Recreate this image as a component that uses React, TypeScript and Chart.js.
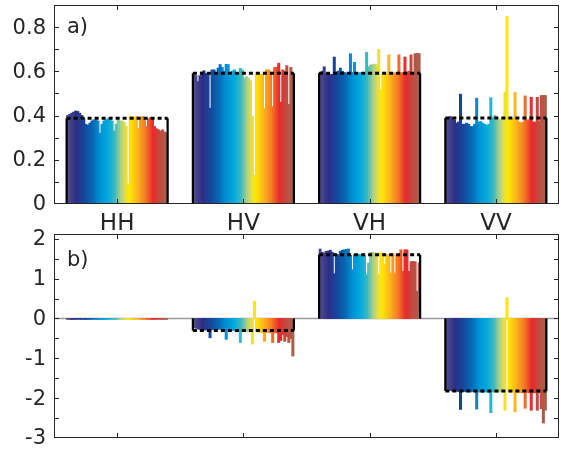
import React, { useEffect, useRef } from 'react';
import { Chart, registerables } from 'chart.js';
Chart.register(...registerables);

const categories = ['HH', 'HV', 'VH', 'VV'];

// panel a) values (50 bars per group)
const hhA = [0.40, 0.405, 0.41, 0.415, 0.42, 0.418, 0.41, 0.40, 0.385, 0.36,
  0.355, 0.365, 0.375, 0.38, 0.38, 0.375, 0.32, 0.36, 0.375, 0.38,
  0.385, 0.38, 0.375, 0.33, 0.36, 0.38, 0.375, 0.375, 0.37, 0.35,
  0.09, 0.395, 0.395, 0.39, 0.395, 0.34, 0.39, 0.395, 0.39, 0.35,
  0.385, 0.39, 0.385, 0.35, 0.34, 0.335, 0.33, 0.335, 0.325, 0.32];
const hvA = [0.586, 0.58, 0.553, 0.58, 0.596, 0.602, 0.59, 0.587, 0.433, 0.606,
  0.606, 0.59, 0.614, 0.63, 0.617, 0.60, 0.631, 0.63, 0.58, 0.60,
  0.606, 0.59, 0.59, 0.613, 0.606, 0.569, 0.576, 0.569, 0.557, 0.395,
  0.13, 0.591, 0.591, 0.586, 0.587, 0.43, 0.606, 0.606, 0.596, 0.44,
  0.617, 0.617, 0.636, 0.46, 0.606, 0.60, 0.625, 0.45, 0.617, 0.586];
const vhA = [0.594, 0.60, 0.62, 0.59, 0.588, 0.584, 0.586, 0.664, 0.595, 0.60,
  0.614, 0.60, 0.594, 0.592, 0.595, 0.679, 0.595, 0.64, 0.594, 0.592,
  0.594, 0.593, 0.59, 0.685, 0.62, 0.628, 0.63, 0.632, 0.63, 0.699,
  0.515, 0.59, 0.59, 0.592, 0.674, 0.594, 0.592, 0.592, 0.594, 0.674,
  0.594, 0.592, 0.664, 0.596, 0.60, 0.674, 0.59, 0.679, 0.68, 0.68];
const vvA = [0.388, 0.39, 0.395, 0.39, 0.38, 0.365, 0.37, 0.496, 0.36, 0.36,
  0.365, 0.36, 0.35, 0.35, 0.36, 0.478, 0.37, 0.372, 0.365, 0.36,
  0.355, 0.36, 0.48, 0.39, 0.40, 0.38, 0.38, 0.385, 0.386, 0.504,
  0.848, 0.39, 0.385, 0.385, 0.504, 0.38, 0.37, 0.365, 0.37, 0.488,
  0.38, 0.38, 0.482, 0.37, 0.37, 0.482, 0.375, 0.49, 0.49, 0.49];

// panel b) values
const hhB = [-0.02, -0.02, -0.025, -0.02, -0.02, -0.015, -0.02, -0.02, -0.02, -0.025,
  -0.02, -0.02, -0.02, -0.015, -0.02, -0.02, -0.02, -0.02, -0.025, -0.02,
  -0.02, -0.02, -0.015, -0.02, -0.02, -0.02, -0.02, -0.02, -0.025, -0.02,
  -0.02, -0.02, -0.02, -0.02, -0.015, -0.02, -0.02, -0.02, -0.02, -0.025,
  -0.02, -0.02, -0.02, -0.02, -0.02, -0.015, -0.02, -0.02, -0.02, -0.02];
const hvB = [-0.23, -0.24, -0.26, -0.27, -0.28, -0.29, -0.28, -0.27, -0.48, -0.28,
  -0.27, -0.27, -0.26, -0.27, -0.28, -0.29, -0.52, -0.28, -0.28, -0.30,
  -0.30, -0.30, -0.31, -0.60, -0.32, -0.32, -0.33, -0.33, -0.33, -0.64,
  0.43, -0.33, -0.34, -0.34, -0.35, -0.57, -0.35, -0.35, -0.36, -0.60,
  -0.36, -0.35, -0.60, -0.55, -0.40, -0.57, -0.45, -0.60, -0.50, -0.94];
const vhB = [1.74, 1.66, 1.64, 1.68, 1.69, 1.71, 1.66, 1.12, 1.58, 1.60,
  1.68, 1.71, 1.72, 1.73, 1.74, 1.58, 1.22, 1.60, 1.60, 1.60,
  1.60, 1.60, 1.58, 1.10, 1.39, 1.66, 1.66, 1.64, 1.64, 1.10,
  1.64, 1.64, 1.35, 1.60, 1.60, 1.14, 1.62, 1.14, 1.60, 1.62,
  1.72, 1.18, 1.72, 1.72, 1.18, 1.42, 1.43, 1.42, 0.68, 1.39];
const vvB = [-1.80, -1.81, -1.80, -1.82, -1.81, -1.82, -1.83, -2.28, -1.83, -1.83,
  -1.84, -1.83, -1.84, -1.83, -1.84, -2.27, -1.84, -1.84, -1.85, -1.84,
  -1.84, -1.85, -2.36, -1.84, -1.84, -1.85, -1.84, -1.84, -1.84, -2.30,
  0.52, -1.84, -1.85, -1.84, -2.34, -1.85, -1.85, -1.86, -1.85, -2.25,
  -1.85, -1.86, -2.30, -1.86, -1.86, -2.30, -1.86, -2.26, -2.62, -2.30];

const meansA = [0.388, 0.591, 0.591, 0.389];
const meansB = [0, -0.3, 1.6, -1.82];

const yTicksA = [0, 0.2, 0.4, 0.6, 0.8];
const yLabelsA = ['0', '0.2', '0.4', '0.6', '0.8'];
const yMarksA = [0.1, 0.2, 0.3, 0.4, 0.5, 0.6, 0.7, 0.8];
const yTicksB = [-3, -2, -1, 0, 1, 2];
const yLabelsB = ['-3', '-2', '-1', '0', '1', '2'];
const yMarksB = [-2.5, -2, -1.5, -1, -0.5, 0, 0.5, 1, 1.5, 2];

// colormap stops (style)
const cmap: [number, number[]][] = [
  [0.0, [79, 75, 138]],
  [0.08, [46, 46, 134]],
  [0.16, [23, 70, 154]],
  [0.24, [10, 100, 176]],
  [0.32, [0, 144, 212]],
  [0.40, [0, 170, 222]],
  [0.47, [60, 184, 192]],
  [0.53, [168, 208, 140]],
  [0.58, [232, 224, 64]],
  [0.62, [255, 232, 0]],
  [0.70, [251, 180, 28]],
  [0.78, [244, 124, 36]],
  [0.86, [232, 40, 44]],
  [0.93, [192, 76, 64]],
  [1.0, [168, 96, 76]],
];
function colorAt(t: number) {
  for (let k = 0; k < cmap.length - 1; k++) {
    const [t0, c0] = cmap[k];
    const [t1, c1] = cmap[k + 1];
    if (t <= t1) {
      const f = (t - t0) / (t1 - t0);
      const c = c0.map((v, j) => Math.round(v + (c1[j] - v) * f));
      return `rgb(${c[0]},${c[1]},${c[2]})`;
    }
  }
  const c = cmap[cmap.length - 1][1];
  return `rgb(${c[0]},${c[1]},${c[2]})`;
}

const FONT = '"DejaVu Sans", sans-serif';
const AX = '#262626';

type PanelCfg = {
  series: number[][];
  means: number[];
  yMin: number;
  yMax: number;
  yTicks: number[];
  yLabels: string[];
  yMarks: number[];
  label: string;
  labelDy: number;
  showX: boolean;
  xLabelY: number;
  height: number;
  top: number;
  padTop: number;
  padBottom: number;
  xHeight: number;
  zeroLine: boolean;
};

function makeChart(canvas: HTMLCanvasElement, cfg: PanelCfg) {
  const n = cfg.series[0].length;
  const datasets = cfg.series[0].map((_, i) => ({
    data: cfg.series.map((s) => s[i]),
    backgroundColor: colorAt(i / (n - 1)),
    borderWidth: 0,
    inflateAmount: 0.5,
    categoryPercentage: 0.8,
    barPercentage: 1.0,
  }));

  const plugin = {
    id: 'matlabFrame',
    beforeDatasetsDraw(chart: any) {
      if (!cfg.zeroLine) return;
      const { ctx, chartArea: ca, scales } = chart;
      const y0 = scales.y.getPixelForValue(0);
      ctx.save();
      ctx.strokeStyle = '#9a9a9a';
      ctx.lineWidth = 1.5;
      ctx.beginPath();
      ctx.moveTo(ca.left, y0);
      ctx.lineTo(ca.right, y0);
      ctx.stroke();
      ctx.restore();
    },
    afterDatasetsDraw(chart: any) {
      const { ctx, chartArea: ca, scales } = chart;
      const ys = scales.y;
      const xs = scales.x;
      const first = chart.getDatasetMeta(0);
      const last = chart.getDatasetMeta(n - 1);
      ctx.save();
      cfg.means.forEach((m, c) => {
        if (m === 0) return;
        const b0 = first.data[c];
        const b1 = last.data[c];
        const left = b0.x - b0.width / 2;
        const right = b1.x + b1.width / 2;
        const y0 = ys.getPixelForValue(0);
        const ym = ys.getPixelForValue(m);
        ctx.strokeStyle = '#000';
        ctx.setLineDash([]);
        ctx.lineWidth = 2.2;
        ctx.beginPath();
        ctx.moveTo(left, y0);
        ctx.lineTo(left, ym);
        ctx.moveTo(right, y0);
        ctx.lineTo(right, ym);
        ctx.stroke();
        ctx.setLineDash([4, 3]);
        ctx.lineWidth = 3;
        ctx.beginPath();
        ctx.moveTo(left, ym);
        ctx.lineTo(right, ym);
        ctx.stroke();
      });
      ctx.setLineDash([]);
      // frame
      ctx.strokeStyle = AX;
      ctx.lineWidth = 1;
      ctx.strokeRect(ca.left + 0.5, ca.top + 0.5, ca.width - 1, ca.height - 1);
      // tick marks (inward)
      const tl = 5;
      ctx.beginPath();
      cfg.yMarks.forEach((v) => {
        const py = Math.round(ys.getPixelForValue(v)) + 0.5;
        ctx.moveTo(ca.left, py);
        ctx.lineTo(ca.left + tl, py);
        ctx.moveTo(ca.right, py);
        ctx.lineTo(ca.right - tl, py);
      });
      categories.forEach((_, c) => {
        const px = Math.round(xs.getPixelForValue(c)) + 0.5;
        ctx.moveTo(px, ca.top);
        ctx.lineTo(px, ca.top + tl);
        ctx.moveTo(px, ca.bottom);
        ctx.lineTo(px, ca.bottom - tl);
      });
      ctx.stroke();
      // y tick labels
      ctx.fillStyle = AX;
      ctx.font = `21px ${FONT}`;
      ctx.textAlign = 'right';
      ctx.textBaseline = 'middle';
      cfg.yTicks.forEach((v, k) => {
        ctx.fillText(cfg.yLabels[k], ca.left - 8, ys.getPixelForValue(v) + 1);
      });
      // x tick labels
      if (cfg.showX) {
        ctx.font = `23px ${FONT}`;
        ctx.textAlign = 'center';
        ctx.textBaseline = 'alphabetic';
        categories.forEach((lab, c) => {
          ctx.fillText(lab, xs.getPixelForValue(c), cfg.xLabelY);
        });
      }
      // panel label
      ctx.font = `21px ${FONT}`;
      ctx.textBaseline = 'alphabetic';
      ctx.textAlign = 'left';
      ctx.fillText(cfg.label, ca.left + 13, ca.top + cfg.labelDy);
      ctx.restore();
    },
  };

  return new Chart(canvas, {
    type: 'bar',
    data: { labels: categories, datasets },
    options: {
      responsive: false,
      animation: false,
      devicePixelRatio: 1,
      layout: { padding: { top: cfg.padTop, right: 2, left: 0, bottom: cfg.padBottom } },
      plugins: { legend: { display: false }, tooltip: { enabled: false } },
      scales: {
        x: {
          type: 'category',
          offset: true,
          grid: { display: false, drawTicks: false },
          border: { display: false },
          ticks: { display: false },
          afterFit: (s: any) => {
            s.height = cfg.xHeight;
          },
        },
        y: {
          min: cfg.yMin,
          max: cfg.yMax,
          grid: { display: false, drawTicks: false },
          border: { display: false },
          ticks: { display: false },
          afterFit: (s: any) => {
            s.width = 54;
          },
        },
      },
    },
    plugins: [plugin],
  });
}

function Panel({ cfg }: { cfg: PanelCfg }) {
  const ref = useRef<HTMLCanvasElement>(null);
  useEffect(() => {
    if (!ref.current) return;
    const ch = makeChart(ref.current, cfg);
    return () => ch.destroy();
  }, []);
  return (
    <canvas
      ref={ref}
      width={561}
      height={cfg.height}
      style={{ position: 'absolute', left: 0, top: cfg.top, width: 561, height: cfg.height }}
    />
  );
}

const panelA: PanelCfg = {
  series: [hhA, hvA, vhA, vvA],
  means: meansA,
  yMin: 0,
  yMax: 0.9,
  yTicks: yTicksA,
  yLabels: yLabelsA,
  yMarks: yMarksA,
  label: 'a)',
  labelDy: 28,
  showX: true,
  xLabelY: 230,
  height: 234,
  top: 0,
  padTop: 5,
  padBottom: 0,
  xHeight: 30,
  zeroLine: false,
};

const panelB: PanelCfg = {
  series: [hhB, hvB, vhB, vvB],
  means: meansB,
  yMin: -3,
  yMax: 2.12,
  yTicks: yTicksB,
  yLabels: yLabelsB,
  yMarks: yMarksB,
  label: 'b)',
  labelDy: 32,
  showX: false,
  xLabelY: 0,
  height: 227,
  top: 222,
  padTop: 12,
  padBottom: 11,
  xHeight: 0,
  zeroLine: true,
};

export default function App() {
  return (
    <div style={{ position: 'absolute', left: 0, top: 0, width: 561, height: 449, background: '#fff' }}>
      <Panel cfg={panelA} />
      <Panel cfg={panelB} />
    </div>
  );
}
